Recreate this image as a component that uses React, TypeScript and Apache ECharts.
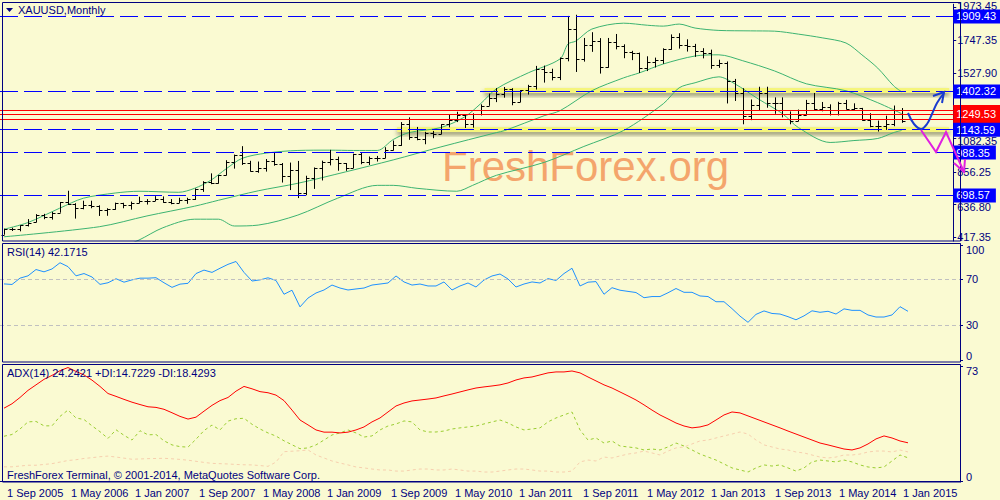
import { useEffect, useRef } from 'react';
import * as echarts from 'echarts';

const FONT = '"Liberation Sans Narrow", "Liberation Sans", Arial, sans-serif';
const NAVY = '#000080';
const BG = '#fafad2';

const MONTHS = ['Jan', 'Feb', 'Mar', 'Apr', 'May', 'Jun', 'Jul', 'Aug', 'Sep', 'Oct', 'Nov', 'Dec'];
// categories: monthly bars from Sep 2005, with empty months to the right
const categories: string[] = [];
for (let k = 0; k < 120; k++) {
  categories.push(MONTHS[(8 + k) % 12] + ' ' + (2005 + Math.floor((8 + k) / 12)));
}

// XAUUSD monthly OHLC, Sep 2005 .. Feb 2015
const open = [433.5, 473.2, 470.6, 495.7, 517.1, 568.8, 556.2, 582.7, 654, 643, 614, 632, 626, 599, 604, 646, 632, 650, 664, 662, 678, 656, 650, 666, 672, 743, 789, 783, 834, 922, 971, 916, 863, 886, 929, 914, 833, 871, 717, 816, 882, 927, 942, 916, 887, 979, 926, 955, 954, 1008, 1040, 1180, 1096, 1082, 1118, 1113, 1180, 1212, 1244, 1181, 1248, 1307, 1357, 1386, 1421, 1332, 1409, 1439, 1556, 1536, 1500, 1628, 1825, 1624, 1714, 1746, 1565, 1738, 1710, 1668, 1663, 1561, 1604, 1615, 1687, 1772, 1719, 1713, 1675, 1663, 1578, 1598, 1472, 1393, 1234, 1313, 1395, 1327, 1323, 1250, 1202, 1240, 1326, 1284, 1296, 1250, 1327, 1282, 1287, 1208, 1171, 1167, 1183, 1280];
const high = [473.9, 480, 497, 538.6, 572.3, 574.1, 587, 654.5, 730.4, 646, 663, 663, 632, 612, 650, 649, 657, 690, 674, 694, 692, 674, 683, 683, 746, 795, 848, 838, 937, 975, 1032, 933, 928, 945, 988, 918, 921, 932, 832, 888, 934, 1007, 961, 918, 981, 989, 962, 966, 1025, 1070, 1195, 1227, 1162, 1129, 1135, 1181, 1249, 1265, 1245, 1254, 1315, 1388, 1425, 1432, 1424, 1411, 1447, 1575, 1577, 1556, 1632, 1913, 1921, 1764, 1803, 1763, 1764, 1791, 1721, 1677, 1665, 1640, 1631, 1694, 1788, 1796, 1755, 1724, 1695, 1685, 1617, 1605, 1487, 1424, 1348, 1434, 1434, 1362, 1362, 1267, 1280, 1345, 1392, 1331, 1315, 1332, 1345, 1322, 1291, 1255, 1205, 1238, 1307, 1290];
const low = [432.9, 458.1, 456, 488.6, 517.1, 538, 535, 582, 634, 542, 605, 612, 560, 561, 602, 612, 603, 646, 637, 661, 649, 639, 648, 642, 668, 723, 775, 779, 834, 880, 905, 860, 852, 860, 900, 786, 735, 681, 700, 743, 800, 902, 866, 865, 884, 910, 905, 928, 951, 1003, 1034, 1075, 1072, 1045, 1086, 1113, 1159, 1195, 1155, 1157, 1240, 1305, 1330, 1360, 1309, 1330, 1381, 1415, 1462, 1477, 1479, 1606, 1534, 1604, 1670, 1523, 1563, 1687, 1627, 1614, 1527, 1540, 1564, 1589, 1684, 1692, 1672, 1636, 1626, 1555, 1562, 1321, 1338, 1180, 1208, 1271, 1292, 1251, 1227, 1180, 1200, 1240, 1277, 1268, 1240, 1240, 1281, 1273, 1204, 1160, 1131, 1142, 1167, 1190];
const close = [473.2, 470.6, 495.7, 513, 568.8, 556.2, 582.7, 654, 643, 614, 632, 626, 599, 604, 646, 632, 650, 664, 662, 678, 656, 650, 666, 672, 743, 789, 783, 834, 922, 971, 916, 863, 886, 929, 914, 833, 871, 717, 816, 882, 927, 942, 916, 887, 979, 926, 955, 954, 1008, 1040, 1180, 1096, 1082, 1118, 1113, 1180, 1212, 1244, 1181, 1248, 1307, 1357, 1386, 1421, 1332, 1409, 1439, 1556, 1536, 1500, 1628, 1825, 1624, 1714, 1746, 1565, 1738, 1710, 1668, 1663, 1561, 1604, 1615, 1687, 1772, 1719, 1713, 1675, 1663, 1578, 1598, 1472, 1393, 1234, 1313, 1395, 1327, 1323, 1250, 1202, 1240, 1326, 1284, 1296, 1250, 1327, 1282, 1287, 1208, 1171, 1167, 1183, 1278, 1205];

// Bollinger bands: [month index, price]
const bbUpper = [[0, 470], [3, 515], [7, 612], [10, 680], [14, 715], [17, 727], [22, 720], [24, 747], [26, 800], [28, 880], [30, 950], [33, 985], [37, 1003], [41, 1005], [44, 1003], [47, 1003], [49, 1077], [51, 1124], [55, 1158], [58, 1230], [60, 1319], [62, 1420], [66, 1528], [70, 1622], [71, 1723], [72, 1743], [74, 1824], [78, 1864], [81, 1850], [83, 1844], [85, 1858], [87, 1831], [90, 1815], [94, 1812], [97, 1810], [100, 1790], [103, 1765], [106, 1730], [108, 1650], [110, 1560], [112, 1440], [113, 1400]];
const bbMiddle = [[0, 419], [12, 487], [18, 560], [24, 626], [27, 666], [32, 730], [37, 781], [43, 858], [49, 939], [55, 1027], [62, 1124], [63, 1137], [68, 1238], [70, 1272], [74, 1407], [78, 1494], [80, 1528], [83, 1588], [87, 1642], [90, 1650], [93, 1610], [97, 1541], [101, 1454], [106, 1407], [110, 1326], [113, 1252]];
const bbLower = [[14, 330], [17, 397], [20, 480], [24, 538], [27, 538], [29, 492], [32, 498], [37, 566], [42, 680], [47, 767], [49, 767], [52, 747], [57, 727], [59, 767], [62, 835], [68, 922], [73, 1030], [78, 1138], [83, 1319], [85, 1427], [87, 1461], [90, 1501], [92, 1454], [95, 1350], [98, 1252], [100, 1158], [104, 1057], [107, 1070], [110, 1084], [112, 1124], [113, 1138]];

const rsi = [66, 65.5, 71, 73, 78.5, 76.5, 79, 84.4, 81, 73, 75, 72, 65.6, 67, 70.5, 67.5, 69.5, 71, 71, 71.4, 67, 63, 65.8, 66.5, 75, 78, 76, 79.6, 83, 85.5, 76, 68.5, 69.5, 71.3, 69, 57, 60.5, 46, 53.7, 58.1, 60.7, 65, 62.4, 60.7, 61.6, 62.4, 65, 65.9, 66.8, 72.9, 67.7, 65, 65.9, 64.2, 64.2, 67.7, 60.7, 64.2, 66.8, 63.3, 69.4, 72.9, 74.6, 70.3, 63.3, 65.9, 67.7, 66.8, 70.6, 69, 75, 79.6, 64.2, 67.5, 68, 57, 62.7, 60.5, 59.5, 58.5, 54, 55, 55, 58.3, 62, 58.7, 58.7, 55.5, 55, 50.5, 50.5, 44.5, 38, 32.6, 39.5, 42.5, 40.3, 39.8, 37.5, 34.8, 38.2, 42.6, 41.3, 42.2, 39.8, 44.3, 43, 43, 39, 37.2, 37.2, 39, 46.2, 42.17];
const adx = [46.2, 49, 53, 57.5, 61, 64.5, 67, 70, 72, 69.5, 67.3, 64, 60, 55.5, 53.7, 51.8, 50, 48.5, 47.1, 46.7, 45.5, 43.3, 41, 39.3, 40.5, 44.3, 48, 51, 53, 57, 60, 58.5, 56.7, 56, 54.5, 51, 45, 38.7, 35.6, 32.4, 31, 31, 30.5, 31, 32.4, 34.3, 37.5, 40, 43.8, 47.6, 49.5, 50.8, 51.4, 52, 52.7, 54, 55.2, 56.5, 57.8, 59, 59.7, 60.3, 61, 62.2, 64.1, 65.4, 66, 67.3, 68.6, 69.2, 69.2, 69.8, 68.6, 66, 63.5, 61, 59, 56.5, 54, 51.4, 48.3, 45, 41.9, 39.4, 36.8, 34.9, 33.7, 34.3, 35.6, 38.7, 41.9, 43.8, 43.2, 41.3, 39.4, 37.5, 35.6, 33.7, 31.7, 29.8, 27.9, 26, 24.1, 22.9, 21.6, 20.3, 19.7, 21, 23.5, 26.7, 28.6, 27.3, 25.4, 24.24];
const plusDI = [28.4, 29.5, 33, 37.5, 37.8, 35, 35, 41, 45, 40, 39, 35, 31.3, 27, 32.5, 29, 26, 31.9, 29.3, 29.5, 25.5, 22.9, 21.8, 21.5, 26.5, 32, 35.5, 32.4, 38, 39.5, 39.8, 36, 33, 30.5, 28.5, 25.5, 23, 20.5, 21, 22.9, 26, 29.2, 30.5, 32.4, 30.5, 27.9, 28.6, 32.4, 34.9, 36.2, 38.1, 37.5, 32.4, 31.1, 31.1, 31.7, 33, 33.7, 34.3, 34.9, 36.2, 37.5, 38.7, 36.8, 34.3, 32.4, 33, 33.7, 37.5, 40, 41.9, 43.8, 32.4, 26, 27.3, 24.1, 25.4, 22.2, 21.6, 21, 19.7, 20.3, 19.7, 21.6, 24.1, 22.2, 19.7, 17.1, 15.2, 13.3, 10.8, 8.3, 7, 5.7, 8.3, 10.2, 9.5, 10.2, 8.3, 6.3, 8.3, 12.1, 13.3, 12.7, 12.1, 13.3, 12.1, 10.2, 8.9, 8.3, 8.9, 12.7, 16.5, 14.72];
const minusDI = [9, 9, 9.5, 10, 10, 10.5, 11, 12, 13, 13.5, 14.3, 14.8, 15.4, 15.8, 15.2, 14.5, 13.8, 14, 14.2, 14.3, 14.4, 14.1, 13.7, 13.2, 12.5, 11.8, 11.2, 11, 10.8, 10.5, 10.3, 10.2, 9.8, 9.3, 12, 18.6, 18.9, 19.2, 19.7, 16.5, 14.6, 12.7, 11.4, 10.2, 8.9, 8.3, 7.6, 7, 7, 6.3, 6.3, 7, 7.6, 7.6, 7, 7, 7.6, 7, 6.3, 6.3, 5.7, 5.7, 6.3, 7, 7.6, 7.6, 7, 6.3, 6.3, 5.7, 5.7, 6.3, 12.1, 13.3, 12.7, 15.2, 14.6, 15.9, 17.1, 17.8, 19, 17.8, 16.5, 19, 21, 21.6, 23.5, 25.4, 26, 27.3, 28.6, 29.8, 31.1, 29.8, 26, 22.9, 21.6, 20.3, 19.7, 18.4, 17.8, 16.5, 15.2, 14.6, 15.2, 16.5, 16.5, 17.1, 18.4, 19, 19, 18.4, 19.7, 18.43];

const priceTicks = [1973.45, 1747.35, 1527.9, 1082.35, 856.25, 636.8, 417.35];
const rsiTicks = [0, 30, 70, 100];
const adxTicks = [0, 73];
const blueLevels = [1909.43, 1402.32, 1143.59, 988.35, 698.57];
const redLevels = [1272.18, 1215.38, 1249.53];
// highlighted channel strips: [start month index, end month index, price]
const channels = [[61, 119, 1402.32], [50, 119, 1143.59]];

const ohlcData = open.map((o, i) => [i, o, high[i], low[i], close[i]]);

function App() {
  const ref = useRef<HTMLDivElement>(null);
  useEffect(() => {
    const chart = echarts.init(ref.current!, null, { renderer: 'svg' });
    const lbl = { color: NAVY, fontSize: 11, fontFamily: FONT };
    const levelLine = (v: number, color: string, dashed: boolean, showLabel: boolean, pad: number[]) => ({
      yAxis: v,
      lineStyle: { color, width: 1, type: dashed ? [18, 6] : 'solid' },
      label: {
        show: showLabel, position: 'end', distance: 0, formatter: v.toFixed(2),
        color: '#ffffff', backgroundColor: color, padding: pad, fontSize: 11, fontFamily: FONT,
      },
    });
    const priceLabel = (v: number) => {
      const s = v.toFixed(2);
      if (v > 1900) return '{u|' + s + '}';
      if (v === 1082.35 || v === 636.8) return '{d|' + s + '}';
      return '{n|' + s + '}';
    };
    const option: any = {
      animation: false,
      backgroundColor: BG,
      grid: [
        { left: 0, top: 3, width: 960, height: 238 },
        { left: 0, top: 244, width: 960, height: 117 },
        { left: 0, top: 365, width: 960, height: 117 },
      ],
      xAxis: [0, 1, 2].map((g) => ({
        type: 'category', gridIndex: g, data: categories, show: g === 2,
        axisLine: { lineStyle: { color: NAVY } },
        axisTick: { interval: 7, alignWithLabel: true, length: 5, lineStyle: { color: NAVY } },
        axisLabel: { ...lbl, interval: 7, align: 'left', margin: 5, padding: [0, 0, 0, 3], formatter: (v: string) => '1 ' + v },
        splitLine: { show: false },
      })),
      yAxis: [
        {
          gridIndex: 0, type: 'value', position: 'right', min: 390.5, max: 1992.3,
          splitLine: { show: false }, axisLine: { show: true, lineStyle: { color: NAVY } },
          axisTick: { show: true, length: 3, customValues: priceTicks, lineStyle: { color: NAVY } },
          axisLabel: {
            ...lbl, margin: 4, customValues: priceTicks,
            formatter: priceLabel,
            rich: { u: { padding: [0, 0, 3, 0], ...lbl }, d: { padding: [4, 0, 0, 0], ...lbl }, n: { ...lbl } },
          },
        },
        {
          gridIndex: 1, type: 'value', position: 'right', min: -1.04, max: 100.7,
          splitLine: { show: false }, axisLine: { show: true, lineStyle: { color: NAVY } },
          axisTick: { show: true, length: 3, customValues: rsiTicks, lineStyle: { color: NAVY } },
          axisLabel: {
            ...lbl, margin: 6, customValues: rsiTicks,
            formatter: (v: number) => (v === 100 ? '{t|100}' : v === 0 ? '{b|0}' : '{n|' + v + '}'),
            rich: { t: { padding: [11, 0, 0, 0], ...lbl }, b: { padding: [0, 0, 8, 0], ...lbl }, n: { ...lbl } },
          },
        },
        {
          gridIndex: 2, type: 'value', position: 'right', min: -0.63, max: 73.6,
          splitLine: { show: false }, axisLine: { show: true, lineStyle: { color: NAVY } },
          axisTick: { show: true, length: 3, customValues: adxTicks, lineStyle: { color: NAVY } },
          axisLabel: {
            ...lbl, margin: 6, customValues: adxTicks,
            formatter: (v: number) => (v === 0 ? '{b|0}' : '{t|' + v + '}'),
            rich: { t: { padding: [11, 0, 0, 0], ...lbl }, b: { padding: [0, 0, 8, 0], ...lbl } },
          },
        },
      ],
      series: [
        {
          type: 'custom', xAxisIndex: 0, yAxisIndex: 0, z: 1, silent: true,
          data: channels,
          encode: { x: [0, 1], y: 2 },
          renderItem: (_p: any, api: any) => {
            const a = api.coord([api.value(0), api.value(2)]);
            const b = api.coord([api.value(1), api.value(2)]);
            const y = Math.round(a[1]);
            return {
              type: 'rect',
              shape: { x: a[0] - 4, y: y - 3, width: b[0] - a[0] + 4, height: 5 },
              style: { fill: '#f5f57c', shadowColor: 'rgba(70,70,40,0.55)', shadowBlur: 4, shadowOffsetY: 3 },
            };
          },
        },
        {
          type: 'line', xAxisIndex: 0, yAxisIndex: 0, data: [], z: 2, silent: true,
          markLine: {
            silent: true, symbol: ['none', 'none'], animation: false,
            data: [
              levelLine(redLevels[0], '#ff0000', false, false, [2, 6, 1, 3]),
              levelLine(redLevels[1], '#ff0000', false, false, [2, 6, 1, 3]),
              levelLine(redLevels[2], '#ff0000', false, true, [4, 6, 3, 3]),
              ...blueLevels.map((v) => levelLine(v, '#0000ff', true, true, [2, 6, 1, 3])),
            ],
          },
        },
        ...[bbUpper, bbMiddle, bbLower].map((d) => ({
          type: 'line', xAxisIndex: 0, yAxisIndex: 0, data: d, z: 3, silent: true,
          showSymbol: false, smooth: 0.3, lineStyle: { color: '#3cb371', width: 1 },
        })),
        {
          type: 'custom', xAxisIndex: 0, yAxisIndex: 0, z: 4, silent: true,
          data: ohlcData,
          encode: { x: 0, y: [1, 2, 3, 4] },
          renderItem: (_p: any, api: any) => {
            const i = api.value(0);
            const pO = api.coord([i, api.value(1)]);
            const pH = api.coord([i, api.value(2)]);
            const pL = api.coord([i, api.value(3)]);
            const pC = api.coord([i, api.value(4)]);
            const x = Math.round(pO[0]) + 0.5;
            const yo = Math.round(pO[1]) + 0.5;
            const yc = Math.round(pC[1]) + 0.5;
            const st = { stroke: '#000000', lineWidth: 1 };
            return {
              type: 'group',
              children: [
                { type: 'line', shape: { x1: x, y1: pH[1], x2: x, y2: pL[1] }, style: st },
                { type: 'line', shape: { x1: x - 3, y1: yo, x2: x, y2: yo }, style: st },
                { type: 'line', shape: { x1: x, y1: yc, x2: x + 3, y2: yc }, style: st },
              ],
            };
          },
        },
        {
          type: 'line', xAxisIndex: 1, yAxisIndex: 1, data: rsi, showSymbol: false, silent: true,
          lineStyle: { color: '#1e90ff', width: 1 },
          markLine: {
            silent: true, symbol: ['none', 'none'], label: { show: false },
            lineStyle: { color: '#c0c0c0', type: [4, 3], width: 1 },
            data: [{ yAxis: 70 }, { yAxis: 30 }],
          },
        },
        {
          type: 'line', xAxisIndex: 2, yAxisIndex: 2, data: minusDI, showSymbol: false, silent: true,
          lineStyle: { color: '#f6cfae', width: 1, type: [3, 3] },
        },
        {
          type: 'line', xAxisIndex: 2, yAxisIndex: 2, data: plusDI, showSymbol: false, silent: true,
          lineStyle: { color: '#9acd32', width: 1, type: [3, 3] },
        },
        {
          type: 'line', xAxisIndex: 2, yAxisIndex: 2, data: adx, showSymbol: false, silent: true,
          lineStyle: { color: '#ff0000', width: 1 },
        },
      ],
      graphic: [
        { type: 'text', z: 0, x: 442, y: 166, style: { text: 'FreshForex.org', fill: '#f4a56c', font: '42px "Liberation Sans", Arial, sans-serif', textVerticalAlign: 'middle', verticalAlign: 'middle' } },
        { type: 'rect', z: 50, shape: { x: 2.5, y: 2.5, width: 958, height: 238.5 }, style: { fill: 'none', stroke: NAVY, lineWidth: 1 } },
        { type: 'rect', z: 50, shape: { x: 2.5, y: 243.5, width: 958, height: 118.5 }, style: { fill: 'none', stroke: NAVY, lineWidth: 1 } },
        { type: 'rect', z: 50, shape: { x: 2.5, y: 364.5, width: 958, height: 117.5 }, style: { fill: 'none', stroke: NAVY, lineWidth: 1 } },
        { type: 'polygon', z: 60, shape: { points: [[6, 8], [13, 8], [9.5, 12]] }, style: { fill: NAVY } },
        { type: 'text', z: 60, x: 18, y: 10, style: { text: 'XAUUSD,Monthly', fill: NAVY, font: '11px ' + FONT, textVerticalAlign: 'middle', verticalAlign: 'middle' } },
        { type: 'text', z: 60, x: 7, y: 252, style: { text: 'RSI(14) 42.1715', fill: NAVY, font: '11px ' + FONT, textVerticalAlign: 'middle', verticalAlign: 'middle' } },
        { type: 'text', z: 60, x: 7, y: 373, style: { text: 'ADX(14) 24.2421 +DI:14.7229 -DI:18.4293', fill: NAVY, font: '11px ' + FONT, textVerticalAlign: 'middle', verticalAlign: 'middle' } },
        { type: 'text', z: 60, x: 7, y: 475, style: { text: 'FreshForex Terminal, \u00a9 2001-2014, MetaQuotes Software Corp.', fill: NAVY, font: '11px ' + FONT, textVerticalAlign: 'middle', verticalAlign: 'middle' } },
        { type: 'polyline', z: 70, shape: { points: [[908, 113], [914, 124], [921, 129], [927, 124], [932, 114], [937, 103], [944, 93]], smooth: 0.4 }, style: { stroke: '#1a3ccf', lineWidth: 2, fill: 'none' } },
        { type: 'polyline', z: 70, shape: { points: [[933, 96], [944, 92], [942, 103]] }, style: { stroke: '#1a3ccf', lineWidth: 2, fill: 'none' } },
        { type: 'polyline', z: 70, shape: { points: [[921, 130], [936, 152], [946, 132], [964, 172]] }, style: { stroke: '#e020e0', lineWidth: 2, fill: 'none' } },
        { type: 'polyline', z: 70, shape: { points: [[954, 163], [964, 172], [965, 159]] }, style: { stroke: '#e020e0', lineWidth: 2, fill: 'none' } },
      ],
    };
    chart.setOption(option);
    return () => chart.dispose();
  }, []);
  return <div ref={ref} style={{ position: 'fixed', left: 0, top: 0, width: 1000, height: 500, background: BG }} />;
}

export default App;
